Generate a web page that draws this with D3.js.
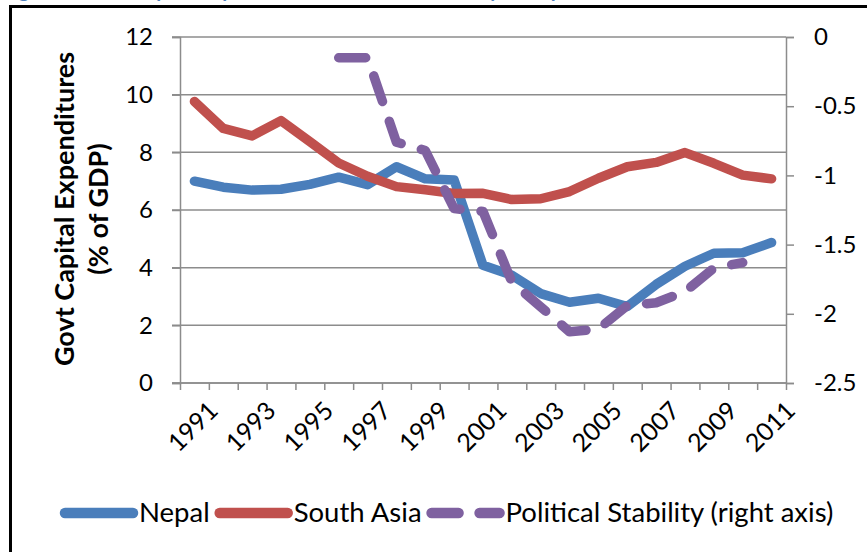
<!DOCTYPE html>
<meta charset="utf-8">
<script src="https://d3js.org/d3.v7.min.js"></script>
<style>
  body { margin: 0; background: #fff; }
  svg text { font-family: Lato, "Open Sans", sans-serif; fill: #000; }
</style>
<div id="my_dataviz"></div>
<script>

// data
var years = ["1991","1992","1993","1994","1995","1996","1997","1998","1999","2000",
             "2001","2002","2003","2004","2005","2006","2007","2008","2009","2010","2011"];
var yearLabels = ["1991","1993","1995","1997","1999","2001","2003","2005","2007","2009","2011"];
var nepal = [7.0, 6.79, 6.69, 6.72, 6.89, 7.14, 6.88, 7.5, 7.08, 7.04,
             4.08, 3.74, 3.1, 2.8, 2.94, 2.65, 3.42, 4.05, 4.5, 4.52, 4.87];
var southAsia = [9.76, 8.83, 8.57, 9.1, 8.37, 7.63, 7.17, 6.81, 6.7, 6.57,
                 6.58, 6.36, 6.39, 6.64, 7.1, 7.5, 7.65, 7.99, 7.62, 7.21, 7.08];
var stability = [null, null, null, null, null, -0.15, -0.15, -0.76, -0.82, -1.24,
                 -1.26, -1.77, -1.95, -2.13, -2.11, -1.94, -1.92, -1.84, -1.67, -1.63, null];
var leftTicks = [0, 2, 4, 6, 8, 10, 12];
var rightTicks = [-2.5, -2, -1.5, -1, -0.5, 0];

var W = 867, H = 552;
var margin = {top: 37, right: 81, bottom: 169, left: 180};

var svg = d3.select("#my_dataviz")
  .append("svg")
    .attr("width", W)
    .attr("height", H);

var x = d3.scaleBand().domain(years).range([margin.left, W - margin.right]);
var xb = d3.scaleLinear().domain([0, years.length]).range([margin.left, W - margin.right]);
var yL = d3.scaleLinear().domain([0, 12]).range([H - margin.bottom, margin.top]);
var yR = d3.scaleLinear().domain([-2.5, 0]).range([H - margin.bottom, margin.top]);
var cx = function(i) { return x(years[i]) + x.bandwidth() / 2; };

var grey = "#8c8c8c";

// title cut off at the top of the picture
svg.append("text")
  .attr("x", 2).attr("y", -3)
  .style("font-size", "20px").style("font-weight", "bold")
  .style("fill", "#4f81bd")
  .text("Figure 6: Govt Capital Expenditure and Political Stability in Nepal");

// frame
svg.append("path")
  .attr("d", "M10.5," + H + "V6.5H" + W)
  .attr("fill", "none").attr("stroke", "#000").attr("stroke-width", 3);

// gridlines
svg.append("g")
  .selectAll("line")
  .data(leftTicks)
  .enter()
  .append("line")
    .attr("x1", margin.left - 8).attr("x2", W - margin.right)
    .attr("y1", function(d) { return yL(d); })
    .attr("y2", function(d) { return yL(d); })
    .attr("stroke", grey).attr("stroke-width", 1.5);

// left axis
var gl = svg.append("g")
  .attr("transform", "translate(" + margin.left + ",0)")
  .call(d3.axisLeft(yL).tickValues(leftTicks).tickSize(8).tickPadding(19));
// right axis
var gr = svg.append("g")
  .attr("transform", "translate(" + (W - margin.right) + ",0)")
  .call(d3.axisRight(yR).tickValues(rightTicks).tickSize(8).tickPadding(20)
          .tickFormat(function(d) { return String(d); }));
// bottom axis: ticks between categories
var gb = svg.append("g")
  .attr("transform", "translate(0," + (H - margin.bottom) + ")")
  .call(d3.axisBottom(xb).tickValues(d3.range(years.length + 1)).tickSize(7).tickFormat(""));

[gl, gr, gb].forEach(function(g) {
  g.select(".domain").attr("stroke", grey).attr("stroke-width", 1.5);
  g.selectAll(".tick line").attr("stroke", grey).attr("stroke-width", 1.5);
  g.selectAll(".tick text").style("font-size", "24px").attr("fill", "#000");
});
gb.select(".domain").attr("d", "M" + (margin.left - 8) + ",0H" + (W - margin.right));

// rotated year labels
svg.append("g")
  .selectAll("text")
  .data(yearLabels)
  .enter()
  .append("text")
    .attr("transform", function(d) {
      return "translate(" + (x(d) + x.bandwidth() / 2 + 19) + "," + (H - margin.bottom + 23) + ") rotate(-45)";
    })
    .attr("text-anchor", "end")
    .attr("dy", "0.35em")
    .style("font-size", "25px")
    .text(function(d) { return d; });

// y axis title
var ty = svg.append("text")
  .attr("transform", "translate(74,209) rotate(-90)")
  .attr("text-anchor", "middle")
  .style("font-size", "27px").style("font-weight", "bold");
ty.append("tspan").attr("x", 0).attr("y", 0).text("Govt Capital Expenditures");
ty.append("tspan").attr("x", 0).attr("y", 34).text("(% of GDP)");

// lines
var lw = 9.5;
var dash = "27,21";
var lineL = d3.line()
  .defined(function(d) { return d != null; })
  .x(function(d, i) { return cx(i); })
  .y(function(d) { return yL(d); });
var lineR = d3.line()
  .defined(function(d) { return d != null; })
  .x(function(d, i) { return cx(i); })
  .y(function(d) { return yR(d); });

var series = [
  {name: "Nepal", values: nepal, line: lineL, color: "#4a7ebb", dash: null},
  {name: "South Asia", values: southAsia, line: lineL, color: "#c0504d", dash: null},
  {name: "Political Stability (right axis)", values: stability, line: lineR, color: "#7f61a0", dash: dash}
];

svg.append("g")
  .selectAll("path")
  .data(series)
  .enter()
  .append("path")
    .attr("d", function(s) { return s.line(s.values); })
    .attr("fill", "none")
    .attr("stroke", function(s) { return s.color; })
    .attr("stroke-width", lw)
    .attr("stroke-linecap", "round")
    .attr("stroke-linejoin", "round")
    .attr("stroke-dasharray", function(s) { return s.dash; });

// legend
var lx = 65, ly = 513;
series.forEach(function(s, i) {
  svg.append("line")
    .attr("x1", lx).attr("x2", lx + 68)
    .attr("y1", ly).attr("y2", ly)
    .attr("stroke", s.color).attr("stroke-width", lw + 1)
    .attr("stroke-linecap", "round")
    .attr("stroke-dasharray", s.dash);
  var t = svg.append("text")
    .attr("x", lx + 74).attr("y", ly + 9)
    .style("font-size", "27.5px")
    .text(s.name);
  lx = lx + 74 + t.node().getComputedTextLength() + 10;
});

</script>
